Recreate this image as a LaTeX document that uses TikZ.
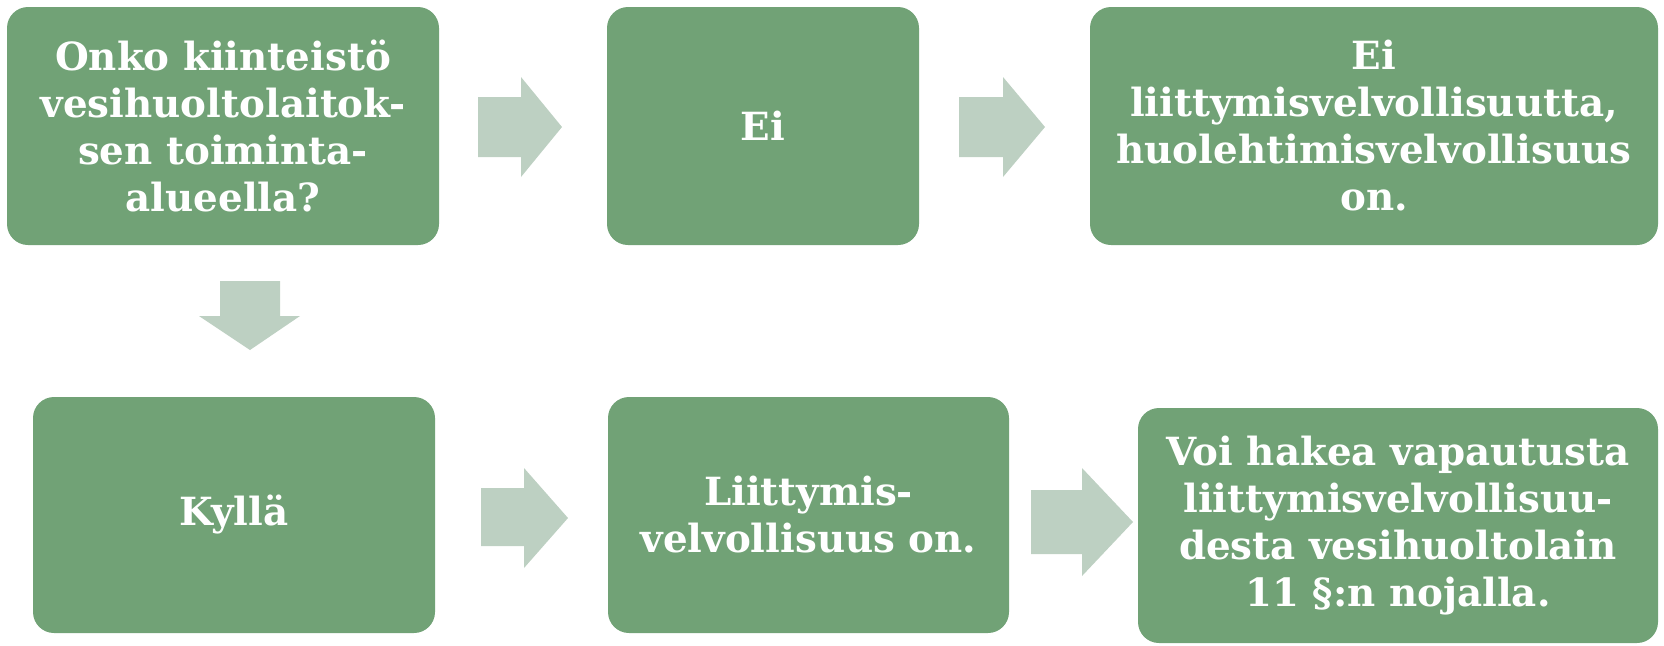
\documentclass[tikz,border=0pt]{standalone}
\usepackage{fontspec}
\setmainfont{DejaVu Serif}
\definecolor{boxgreen}{RGB}{113,162,118}
\definecolor{arrowgreen}{RGB}{189,208,194}
\begin{document}
\begin{tikzpicture}[x=0.5pt,y=-0.5pt,
  box/.style={fill=boxgreen, draw=none, rounded corners=10.5pt, text=white,
    font=\fontsize{19.4}{23.5}\selectfont\bfseries, align=center, inner sep=0pt},
  blockarrow/.style={fill=arrowgreen, draw=none}]
\useasboundingbox (0,0) rectangle (1664,645);
% boxes
\node[box, minimum width=216pt, minimum height=119pt] (q) at (223,126)
  {Onko kiinteistö\\vesihuoltolaitok-\\sen toiminta-\\alueella?};
\node[box, minimum width=156pt, minimum height=119pt] (ei) at (763,126) {Ei};
\node[box, minimum width=284pt, minimum height=119pt] (eires) at (1374,126)
  {Ei\\liittymisvelvollisuutta,\\huolehtimisvelvollisuus\\on.};
\node[box, minimum width=201pt, minimum height=118pt] (kylla) at (234,515) {Kyllä};
\node[box, minimum width=200.5pt, minimum height=118pt] (liitt) at (808.5,515)
  {Liittymis-\\velvollisuus on.};
\node[box, minimum width=260pt, minimum height=117.5pt] (vap) at (1398,525.5)
  {Voi hakea vapautusta\\liittymisvelvollisuu-\\desta vesihuoltolain\\11 §:n nojalla.};
% block arrows
\fill[blockarrow] (478,97) -- (521,97) -- (521,77) -- (562,127) -- (521,177) -- (521,157) -- (478,157) -- cycle;
\fill[blockarrow] (959,97) -- (1003,97) -- (1003,77) -- (1045,127) -- (1003,177) -- (1003,157) -- (959,157) -- cycle;
\fill[blockarrow] (220,281) -- (280,281) -- (280,316) -- (300,316) -- (250,350) -- (199,316) -- (220,316) -- cycle;
\fill[blockarrow] (481,488) -- (524,488) -- (524,468) -- (568,518) -- (524,568) -- (524,546) -- (481,546) -- cycle;
\fill[blockarrow] (1031,490) -- (1082,490) -- (1082,468) -- (1133,522) -- (1082,576) -- (1082,554) -- (1031,554) -- cycle;
\end{tikzpicture}
\end{document}
